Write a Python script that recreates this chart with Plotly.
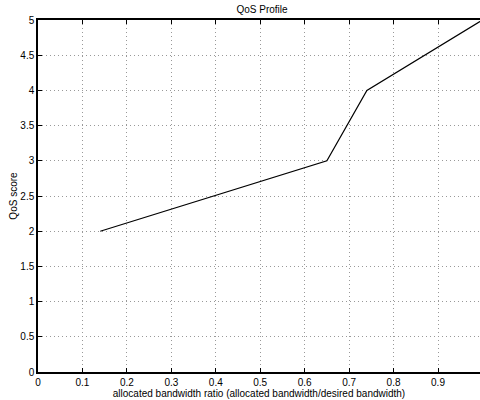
import plotly.graph_objects as go

ratio = [0.14, 0.65, 0.74, 1.0]
score = [2, 3, 4, 5]
x_ticks = [0, 0.1, 0.2, 0.3, 0.4, 0.5, 0.6, 0.7, 0.8, 0.9]
y_ticks = [0, 0.5, 1, 1.5, 2, 2.5, 3, 3.5, 4, 4.5, 5]

fig = go.Figure()
fig.add_trace(go.Scatter(x=ratio, y=score, mode="lines",
                         line=dict(color="black", width=1.2), showlegend=False))

font = dict(family="Liberation Sans, Arial, sans-serif", size=10, color="black")
fig.update_layout(
    template="none",
    width=480, height=400,
    margin=dict(l=38, r=0, t=20, b=28, pad=0),
    paper_bgcolor="white", plot_bgcolor="white",
    font=font,
    title=dict(text="QoS Profile", x=262/480, xanchor="center", y=1-9/400, yanchor="middle",
               font=dict(size=10, color="black")),
)
fig.update_xaxes(range=[0, 442/444.44], tickvals=x_ticks, ticktext=[str(v) for v in x_ticks],
                 automargin=False,
                 showline=True, linecolor="black", linewidth=1.5, mirror="ticks",
                 ticks="inside", ticklen=4, tickcolor="black", tickwidth=1,
                 showgrid=True, gridcolor="#999", griddash="1px,3px", gridwidth=1,
                 zeroline=False, tickfont=dict(size=10, color="black"),
                 title=dict(text="allocated bandwidth ratio (allocated bandwidth/desired bandwidth)",
                            standoff=0, font=dict(size=10, color="black")))
fig.update_yaxes(range=[0, 5], tickvals=y_ticks, ticktext=[f"{v:g}" for v in y_ticks],
                 automargin=False,
                 showline=True, linecolor="black", linewidth=1.5,
                 ticks="inside", ticklen=4, tickcolor="black", tickwidth=1,
                 showgrid=True, gridcolor="#999", griddash="1px,3px", gridwidth=1,
                 zeroline=False, tickfont=dict(size=10, color="black"),
                 title=dict(text="QoS score", standoff=1, font=dict(size=10, color="black")))

fig.write_html("out.html", config={"displayModeBar": False},
               post_script="document.body.style.margin='0';document.body.style.overflow='hidden';")
